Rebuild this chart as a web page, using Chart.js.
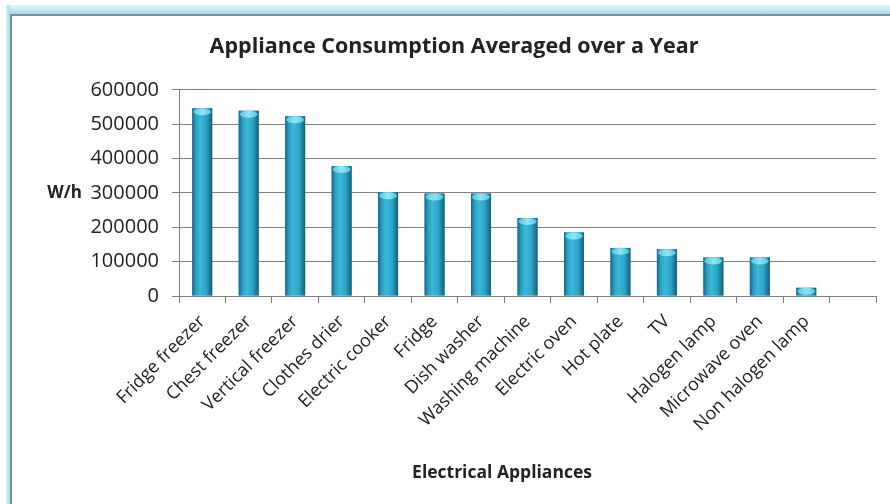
<!DOCTYPE html>
<html>
<head>
<meta charset="utf-8">
<title>Appliance Consumption</title>
<script src="https://cdn.jsdelivr.net/npm/chart.js@4/dist/chart.umd.min.js"></script>
<style>
  html, body { margin: 0; padding: 0; background: #fff; }
  #wrap { position: relative; width: 890px; height: 504px; overflow: hidden; }
  .band-top  { position: absolute; left: 6px; top: 5px; width: 884px; height: 9px;
               background: linear-gradient(#e2f6f9, #a6dce8); }
  .band-left { position: absolute; left: 6px; top: 5px; width: 4px; height: 499px;
               background: linear-gradient(to right, #d4f1f6, #a6dce8); }
  .edge-top  { position: absolute; left: 10px; top: 14px; width: 880px; height: 2px; background: #7b8f98; }
  .edge-left { position: absolute; left: 10px; top: 14px; width: 2px; height: 490px; background: #7b8f98; }
  canvas { position: absolute; left: 0; top: 0; }
</style>
</head>
<body>
<div id="wrap">
  <div class="band-top"></div>
  <div class="band-left"></div>
  <div class="edge-top"></div>
  <div class="edge-left"></div>
  <canvas id="chart" width="890" height="504"></canvas>
</div>
<script>
'use strict';

// ── Data ─────────────────────────────────────────────────
const appliances = [
  'Fridge freezer', 'Chest freezer', 'Vertical freezer', 'Clothes drier',
  'Electric cooker', 'Fridge', 'Dish washer', 'Washing machine',
  'Electric oven', 'Hot plate', 'TV', 'Halogen lamp', 'Microwave oven',
  'Non halogen lamp', ''
];
const wattHours = [
  546000, 539000, 523000, 378000, 302000, 298000, 298000, 227000,
  185000, 140000, 136000, 112000, 112000, 24000, null
];
const yTicks = [0, 100000, 200000, 300000, 400000, 500000, 600000];

// ── Styles ───────────────────────────────────────────────
const FONT  = "'Open Sans', sans-serif";
const GRID  = '#808080';
const TEXT  = '#222';

// cylinder shading on every bar + light top cap
const cylinderBars = {
  id: 'cylinderBars',
  afterDatasetsDraw(chart) {
    const c = chart.ctx;
    const meta = chart.getDatasetMeta(0);
    meta.data.forEach((bar, i) => {
      if (wattHours[i] == null) return;
      const { x, y, base, width } = bar.getProps(['x', 'y', 'base', 'width'], true);
      const l = x - width / 2, r = x + width / 2;

      const g = c.createLinearGradient(l, 0, r, 0);
      g.addColorStop(0,    '#17657f');
      g.addColorStop(0.18, '#2a9fc2');
      g.addColorStop(0.4,  '#3cb8da');
      g.addColorStop(0.7,  '#2ba4c8');
      g.addColorStop(1,    '#155d76');
      c.save();
      c.fillStyle = g;
      c.fillRect(l, y, width, base - y);

      // top ellipse
      const ry = Math.min(3.5, (base - y) / 2);
      const cg = c.createLinearGradient(l, 0, r, 0);
      cg.addColorStop(0,   '#4cc3de');
      cg.addColorStop(0.5, '#8ee6f6');
      cg.addColorStop(1,   '#4cc3de');
      c.fillStyle = cg;
      c.beginPath();
      c.ellipse(x, y + ry, width / 2 - 1, ry, 0, 0, Math.PI * 2);
      c.fill();
      c.restore();
    });
  }
};

// horizontal axis captions: "W/h" beside the values, category title below
const axisCaptions = {
  id: 'axisCaptions',
  afterDraw(chart) {
    const c = chart.ctx;
    c.save();
    c.fillStyle = TEXT;
    c.textBaseline = 'middle';
    c.font = `bold 17px ${FONT}`;
    c.textAlign = 'right';
    c.fillText('W/h', 82, chart.scales.y.getPixelForValue(300000));
    c.font = `bold 17.5px ${FONT}`;
    c.textAlign = 'center';
    c.fillText('Electrical Appliances', 502, 473);
    c.restore();
  }
};

new Chart(document.getElementById('chart'), {
  type: 'bar',
  data: {
    labels: appliances,
    datasets: [{
      data: wattHours,
      backgroundColor: '#2aa4c8',
      barPercentage: 0.43,
      categoryPercentage: 1,
    }],
  },
  options: {
    responsive: false,
    animation: false,
    layout: { padding: { left: 32, right: 14, top: 0, bottom: 0 } },
    plugins: {
      legend: { display: false },
      tooltip: { enabled: false },
      title: {
        display: true,
        text: 'Appliance Consumption Averaged over a Year',
        color: TEXT,
        font: { family: FONT, size: 21.5, weight: 'bold' },
        padding: { top: 34, bottom: 30 },
      },
    },
    scales: {
      x: {
        offset: true,
        grid: { offset: true, drawOnChartArea: false, color: GRID, tickLength: 7 },
        border: { color: GRID, width: 1 },
        ticks: {
          color: TEXT,
          font: { family: FONT, size: 18 },
          minRotation: 45,
          maxRotation: 45,
          autoSkip: false,
          padding: 8,
        },
        afterFit(scale) { scale.height = 208; },
      },
      y: {
        min: 0,
        max: 600000,
        afterBuildTicks(scale) { scale.ticks = yTicks.map(v => ({ value: v })); },
        grid: { color: GRID, tickLength: 7 },
        border: { color: GRID, width: 1 },
        ticks: {
          color: TEXT,
          font: { family: FONT, size: 20 },
          padding: 13,
          callback: v => String(v),
        },
        afterFit(scale) { scale.width = 147; },
      },
    },
  },
  plugins: [cylinderBars, axisCaptions],
});
</script>
</body>
</html>
